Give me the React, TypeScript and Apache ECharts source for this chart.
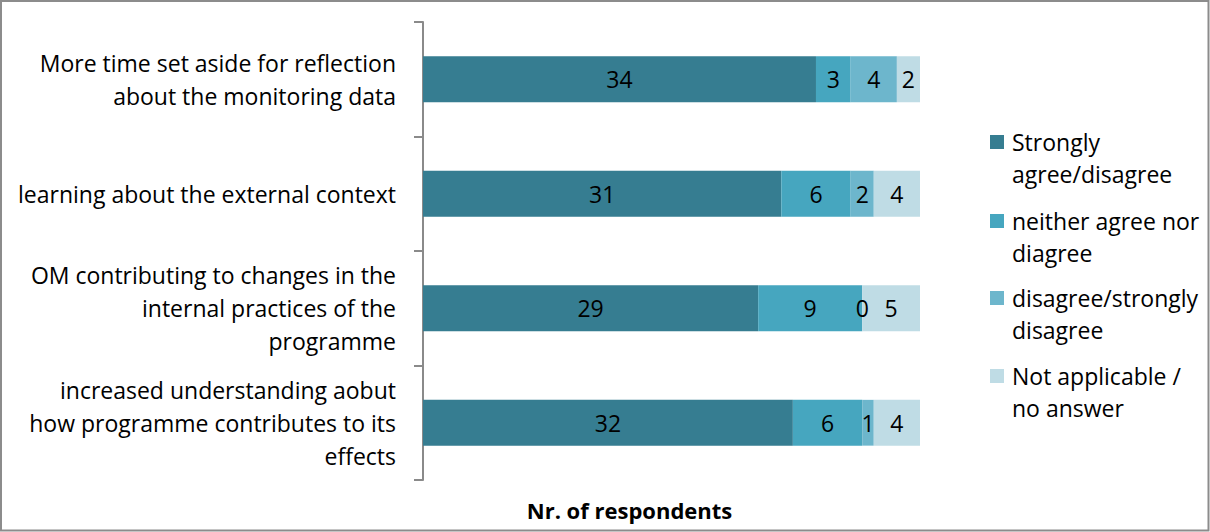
import React, { useEffect, useRef } from "react";
import * as echarts from "echarts";

const categories = [
  "More time set aside for reflection\nabout the monitoring data",
  "learning about the external context",
  "OM contributing to changes in the\ninternal practices of the\nprogramme",
  "increased understanding aobut\nhow programme contributes to its\neffects",
];
const seriesNames = [
  "Strongly\nagree/disagree",
  "neither agree nor\ndiagree",
  "disagree/strongly\ndisagree",
  "Not applicable /\nno answer",
];
const stronglyAgree = [34, 31, 29, 32];
const neither = [3, 6, 9, 6];
const disagree = [4, 2, 0, 1];
const notApplicable = [2, 4, 5, 4];
const seriesData = [stronglyAgree, neither, disagree, notApplicable];
const colors = ["#367D91", "#46A6BF", "#6DB6CC", "#BFDCE5"];
const axisTitle = "Nr. of respondents";

const FONT = "'Open Sans', 'Noto Sans', sans-serif";
const FS = 23;

export default function App() {
  const ref = useRef<HTMLDivElement>(null);
  useEffect(() => {
    if (!ref.current) return;
    const chart = echarts.init(ref.current, undefined, { renderer: "svg" });
    const legendCenters = [142, 221, 298, 376];
    const legendGraphics: any[] = [];
    seriesNames.forEach((n, i) => {
      legendGraphics.push({
        type: "rect",
        shape: { x: 990, y: legendCenters[i] - 7, width: 14, height: 14 },
        style: { fill: colors[i] },
      });
      legendGraphics.push({
        type: "text",
        x: 1012,
        y: legendCenters[i] - 16,
        style: {
          text: n,
          font: `${FS}px ${FONT}`,
          fill: "#000",
          lineHeight: 32,
          verticalAlign: "top",
          align: "left",
        },
      });
    });
    chart.setOption({
      animation: false,
      textStyle: { fontFamily: FONT },
      grid: { left: 423, right: 290, top: 22, bottom: 52, containLabel: false },
      xAxis: {
        type: "value",
        min: 0,
        max: 43,
        axisLabel: { show: false },
        axisLine: { show: false },
        axisTick: { show: false },
        splitLine: { show: false },
        name: axisTitle,
        nameLocation: "middle",
        nameGap: 19,
        nameTextStyle: {
          fontFamily: FONT,
          fontSize: 22,
          fontWeight: "bold",
          color: "#000",
          padding: [0, 84, 0, 0],
        },
      },
      yAxis: {
        type: "category",
        data: categories,
        inverse: true,
        axisLine: { show: true, lineStyle: { color: "#8a8a8a", width: 2 } },
        axisTick: { show: true, length: 9, lineStyle: { color: "#8a8a8a", width: 2 } },
        axisLabel: {
          margin: 27,
          fontFamily: FONT,
          fontSize: FS,
          color: "#000",
          lineHeight: 33,
          align: "right",
        },
      },
      series: seriesData.map((d, i) => ({
        type: "bar",
        name: seriesNames[i],
        stack: "total",
        data: d,
        barCategoryGap: "60%",
        itemStyle: { color: colors[i] },
        label: {
          show: true,
          position: "inside",
          color: "#000",
          fontFamily: FONT,
          fontSize: FS,
        },
      })),
      graphic: [
        {
          type: "rect",
          shape: { x: 1, y: 1, width: 1207.5, height: 529.5 },
          style: { fill: "none", stroke: "#8c8c8c", lineWidth: 2 },
          silent: true,
        },
        ...legendGraphics,
      ],
    });
    return () => chart.dispose();
  }, []);
  return (
    <div
      ref={ref}
      style={{ position: "fixed", left: 0, top: 0, width: 1210, height: 532, background: "#fff" }}
    />
  );
}
